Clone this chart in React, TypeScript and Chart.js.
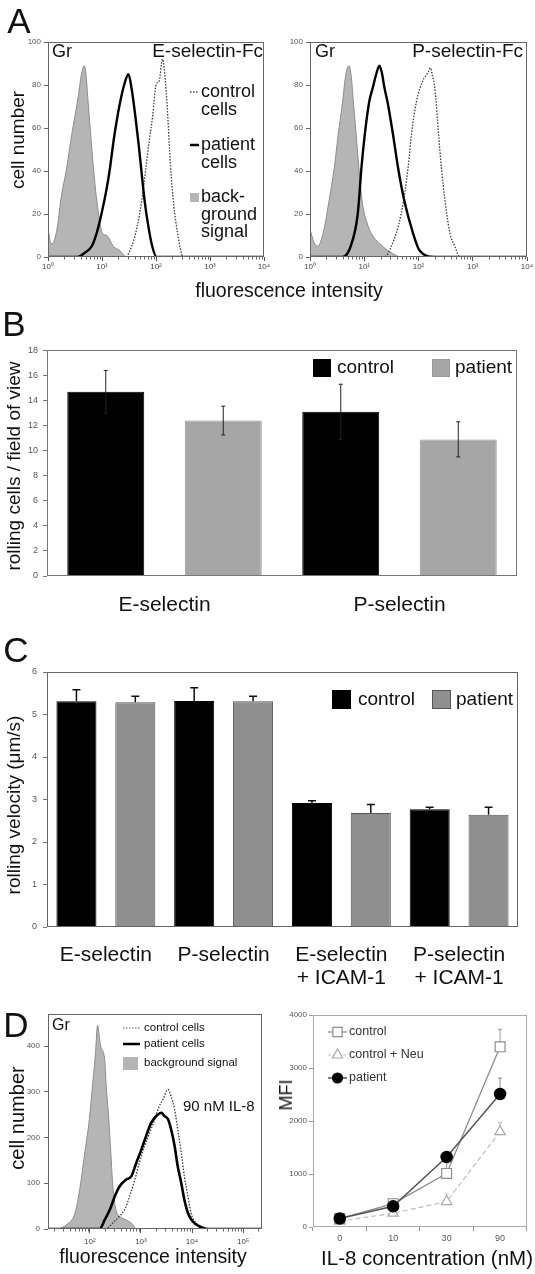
import React, { useEffect, useRef } from "react";
import { Chart, registerables } from "chart.js";
import { drawPoint } from "chart.js/helpers";

Chart.register(...registerables);

const FF = "'Liberation Sans', Arial, Helvetica, sans-serif";
Chart.defaults.font.family = FF;

// ---------------- Panel A (flow histograms, x = log10 fluorescence) ----------------
const SUP = ["\u2070", "\u00B9", "\u00B2", "\u00B3", "\u2074", "\u2075"];
const A_X_TICKS = [0, 1, 2, 3, 4];
const A_Y_TICKS = [0, 20, 40, 60, 80, 100];

const AE_BG_LOG = [0, 0.06, 0.12, 0.18, 0.24, 0.35, 0.44, 0.55, 0.62, 0.67, 0.7, 0.74, 0.79, 0.84, 0.9, 1.01, 1.09, 1.21, 1.33, 1.46, 4];
const AE_BG_CNT = [13, 6, 8, 15, 27, 42, 57, 73, 85, 89, 86, 73, 57, 42, 27, 11, 10, 5, 3, 0, 0];
const AE_PT_LOG = [0, 0.55, 0.68, 0.81, 0.9, 0.99, 1.08, 1.14, 1.22, 1.32, 1.41, 1.49, 1.55, 1.62, 1.68, 1.73, 1.79, 1.86, 1.93, 2.01, 4];
const AE_PT_CNT = [0, 0, 2, 5, 11, 20, 31, 40, 55, 70, 80, 85, 78, 65, 52, 40, 26, 14, 5, 0, 0];
const AE_CT_LOG = [0, 1.43, 1.55, 1.65, 1.74, 1.87, 1.94, 2.0, 2.06, 2.12, 2.15, 2.2, 2.27, 2.33, 2.4, 2.45, 2.5, 4];
const AE_CT_CNT = [0, 0, 5, 14, 27, 53, 66, 80, 82, 92, 88, 73, 42, 24, 11, 4, 0, 0];

const AP_BG_LOG = [0, 0.07, 0.14, 0.25, 0.35, 0.45, 0.52, 0.6, 0.66, 0.72, 0.76, 0.8, 0.85, 0.9, 0.96, 1.05, 1.13, 1.34, 1.5, 1.68, 4];
const AP_BG_CNT = [13, 7, 5, 12, 26, 42, 57, 72, 85, 89, 84, 72, 57, 42, 26, 16, 11, 5, 2, 0, 0];
const AP_PT_LOG = [0, 0.6, 0.75, 0.88, 0.95, 1.01, 1.09, 1.16, 1.22, 1.28, 1.33, 1.37, 1.43, 1.53, 1.62, 1.74, 1.9, 2.02, 2.3, 4];
const AP_PT_CNT = [0, 0, 5, 20, 42, 57, 72, 79, 85, 89, 85, 79, 72, 57, 42, 26, 11, 3, 0, 0];
const AP_CT_LOG = [0, 1.37, 1.5, 1.68, 1.81, 1.87, 1.96, 2.08, 2.18, 2.22, 2.26, 2.3, 2.37, 2.42, 2.49, 2.58, 2.67, 2.76, 4];
const AP_CT_CNT = [0, 0, 5, 20, 42, 57, 72, 82, 86, 88, 84, 79, 57, 42, 26, 11, 5, 0, 0];

// ---------------- Panel B ----------------
const B_CATS = ["E-selectin", "P-selectin"];
const B_CONTROL = [14.7, 13.1];
const B_CONTROL_ERR = [1.7, 2.2];
const B_PATIENT = [12.4, 10.9];
const B_PATIENT_ERR = [1.15, 1.4];
const B_Y_TICKS = [0, 2, 4, 6, 8, 10, 12, 14, 16, 18];

// ---------------- Panel C ----------------
const C_CATS = [["E-selectin"], ["P-selectin"], ["E-selectin", "+ ICAM-1"], ["P-selectin", "+ ICAM-1"]];
const C_CONTROL = [5.31, 5.32, 2.92, 2.77];
const C_CONTROL_ERR = [0.27, 0.31, 0.05, 0.05];
const C_PATIENT = [5.29, 5.31, 2.68, 2.64];
const C_PATIENT_ERR = [0.14, 0.12, 0.2, 0.18];
const C_Y_TICKS = [0, 1, 2, 3, 4, 5, 6];

// ---------------- Panel D left (IL-8 histogram) ----------------
const D_X_TICKS = [2, 3, 4, 5];
const D_Y_TICKS = [0, 100, 200, 300, 400];
const D_BG_LOG = [1.18, 1.35, 1.55, 1.71, 1.81, 1.9, 1.99, 2.05, 2.11, 2.15, 2.21, 2.29, 2.32, 2.37, 2.41, 2.45, 2.51, 2.58, 2.71, 2.84, 2.91, 5.37];
const D_BG_CNT = [0, 0, 10, 35, 93, 166, 240, 312, 385, 445, 400, 370, 312, 240, 166, 93, 42, 28, 20, 10, 0, 0];
const D_PT_LOG = [1.18, 2.19, 2.29, 2.39, 2.49, 2.58, 2.71, 2.81, 2.91, 3.01, 3.1, 3.2, 3.3, 3.4, 3.46, 3.53, 3.59, 3.66, 3.72, 3.79, 3.85, 3.92, 4.01, 4.14, 4.31, 5.37];
const D_PT_CNT = [0, 0, 20, 42, 72, 93, 108, 115, 145, 174, 203, 232, 247, 254, 247, 240, 218, 181, 137, 100, 64, 35, 17, 6, 0, 0];
const D_CT_LOG = [1.18, 2.3, 2.45, 2.58, 2.68, 2.78, 2.88, 2.97, 3.07, 3.17, 3.27, 3.36, 3.43, 3.53, 3.59, 3.66, 3.72, 3.79, 3.85, 3.92, 3.98, 4.08, 4.21, 4.3, 5.37];
const D_CT_CNT = [0, 0, 13, 28, 42, 72, 108, 145, 181, 210, 240, 269, 283, 305, 290, 261, 218, 166, 115, 72, 35, 13, 2, 0, 0];

// ---------------- Panel D right (MFI) ----------------
const MFI_CONC = ["0", "10", "30", "90"];
const MFI_CONTROL = [160, 440, 1010, 3400];
const MFI_CONTROL_ERR = [40, 60, 200, 330];
const MFI_NEU = [110, 260, 480, 1800];
const MFI_NEU_ERR = [20, 40, 140, 170];
const MFI_PATIENT = [160, 390, 1320, 2510];
const MFI_PATIENT_ERR = [30, 50, 80, 300];
const MFI_Y_TICKS = [0, 1000, 2000, 3000, 4000];

// ---------------- helpers ----------------
const pts = (xs: number[], ys: number[]) => xs.map((x, i) => ({ x, y: ys[i] }));

type Item = any;
type DecorOpts = {
  frame?: { color: string; width: number };
  minorX?: { len: number; color: string };
  errLayer?: "before" | "after";
  legend?: Item[];
  notes?: Item[];
};

function drawErrors(chart: any) {
  const ctx = chart.ctx;
  chart.data.datasets.forEach((ds: any, i: number) => {
    if (!ds.errors) return;
    const meta = chart.getDatasetMeta(i);
    const ys = chart.scales[meta.yAxisID];
    ctx.save();
    ctx.strokeStyle = ds.errColor || "#000";
    ctx.lineWidth = ds.errWidth || 1;
    meta.data.forEach((el: any, j: number) => {
      const v = ds.data[j];
      const e = ds.errors[j];
      const x = el.x;
      const top = ys.getPixelForValue(v + e);
      const bot = ys.getPixelForValue(ds.errDown ? v - e : v);
      const c = ds.errCap || 3;
      ctx.beginPath();
      ctx.moveTo(x, top);
      ctx.lineTo(x, bot);
      ctx.moveTo(x - c, top);
      ctx.lineTo(x + c, top);
      if (ds.errDown) {
        ctx.moveTo(x - c, bot);
        ctx.lineTo(x + c, bot);
      }
      ctx.stroke();
    });
    ctx.restore();
  });
}

function makeDecor(o: DecorOpts) {
  return {
    id: "decor",
    beforeDatasetsDraw(chart: any) {
      if (o.errLayer === "before") drawErrors(chart);
    },
    afterDatasetsDraw(chart: any) {
      if (o.errLayer !== "before") drawErrors(chart);
    },
    afterDraw(chart: any) {
      const ctx = chart.ctx;
      const a = chart.chartArea;
      ctx.save();
      if (o.frame) {
        ctx.strokeStyle = o.frame.color;
        ctx.lineWidth = o.frame.width;
        ctx.strokeRect(Math.round(a.left) + 0.5, Math.round(a.top) + 0.5, Math.round(a.right - a.left) - 1, Math.round(a.bottom - a.top) - 1);
      }
      if (o.minorX) {
        const s = chart.scales.x;
        ctx.strokeStyle = o.minorX.color;
        ctx.lineWidth = 1;
        ctx.beginPath();
        for (let n = Math.floor(s.min); n <= Math.ceil(s.max); n++) {
          for (let k = 2; k <= 9; k++) {
            const v = n + Math.log10(k);
            if (v <= s.min || v >= s.max) continue;
            const px = Math.round(s.getPixelForValue(v)) + 0.5;
            ctx.moveTo(px, a.bottom);
            ctx.lineTo(px, a.bottom + o.minorX.len);
          }
        }
        ctx.stroke();
      }
      (o.legend || []).forEach((it: Item) => {
        ctx.save();
        if (it.kind === "box") {
          ctx.fillStyle = it.fill;
          ctx.fillRect(it.x, it.y, it.w, it.h);
          if (it.stroke) {
            ctx.strokeStyle = it.stroke;
            ctx.lineWidth = 1;
            ctx.strokeRect(it.x + 0.5, it.y + 0.5, it.w - 1, it.h - 1);
          }
        } else {
          ctx.strokeStyle = it.color;
          ctx.lineWidth = it.width;
          ctx.setLineDash(it.dash || []);
          ctx.beginPath();
          ctx.moveTo(it.x1, it.y);
          ctx.lineTo(it.x2, it.y);
          ctx.stroke();
          ctx.setLineDash([]);
          if (it.kind === "marker") {
            ctx.fillStyle = it.fill;
            ctx.strokeStyle = it.stroke;
            ctx.lineWidth = 1.2;
            drawPoint(ctx, { pointStyle: it.style, radius: it.radius, rotation: 0, borderWidth: 1.2 } as any, (it.x1 + it.x2) / 2, it.y);
          }
        }
        ctx.restore();
      });
      (o.notes || []).forEach((n: Item) => {
        ctx.font = `${n.size}px ${FF}`;
        ctx.fillStyle = n.color || "#111";
        ctx.textAlign = n.align || "left";
        ctx.textBaseline = "middle";
        ctx.fillText(n.text, n.x, n.y);
      });
      ctx.restore();
    },
  };
}

function baseOpts(pad: any) {
  return {
    responsive: false,
    maintainAspectRatio: false,
    animation: false,
    devicePixelRatio: 1,
    events: [],
    layout: { padding: pad },
    plugins: { legend: { display: false }, tooltip: { enabled: false } },
  };
}

function yAxis(w: number, min: number, max: number, vals: number[], pad: number, size = 8, tickColor = "#666") {
  return {
    type: "linear",
    min,
    max,
    afterFit: (s: any) => {
      s.width = w;
    },
    afterBuildTicks: (s: any) => {
      s.ticks = vals.map((v) => ({ value: v }));
    },
    grid: { display: true, drawOnChartArea: false, drawTicks: true, tickLength: 4, color: tickColor },
    border: { display: false },
    ticks: { autoSkip: false, font: { size }, color: "#555", padding: pad, callback: (v: any) => String(v) },
  };
}

function logXAxis(h: number, min: number, max: number, majors: number[], pad: number) {
  return {
    type: "linear",
    min,
    max,
    afterFit: (s: any) => {
      s.height = h;
    },
    afterBuildTicks: (s: any) => {
      s.ticks = majors.map((v) => ({ value: v }));
    },
    grid: { display: true, drawOnChartArea: false, drawTicks: true, tickLength: 4, color: "#555" },
    border: { display: false },
    ticks: {
      autoSkip: false,
      maxRotation: 0,
      font: { size: 8 },
      color: "#444",
      padding: pad,
      callback: (v: any) => "10" + SUP[Math.round(Number(v))],
    },
  };
}

function histSets(pt: any[], ct: any[], bg: any[], ptW = 2.4) {
  return [
    { label: "patient cells", data: pt, borderColor: "#000", borderWidth: ptW, pointRadius: 0, cubicInterpolationMode: "monotone", fill: false },
    { label: "control cells", data: ct, borderColor: "#3a3a3a", borderWidth: 1.3, borderDash: [1.5, 1.5], pointRadius: 0, cubicInterpolationMode: "monotone", fill: false },
    { label: "background signal", data: bg, borderColor: "#8c8c8c", borderWidth: 1, backgroundColor: "#b5b5b5", fill: "origin", pointRadius: 0, cubicInterpolationMode: "monotone" },
  ];
}

// ---------------- chart configs ----------------
const cfgAE = () => ({
  type: "line",
  data: { datasets: histSets(pts(AE_PT_LOG, AE_PT_CNT), pts(AE_CT_LOG, AE_CT_CNT), pts(AE_BG_LOG, AE_BG_CNT)) },
  options: {
    ...baseOpts({ left: 0, top: 42, right: 11, bottom: 0 }),
    scales: { x: logXAxis(23, 0, 4, A_X_TICKS, 1), y: yAxis(48, 0, 100, A_Y_TICKS, 3, 8) },
  },
  plugins: [
    makeDecor({
      frame: { color: "#666", width: 1 },
      minorX: { len: 2.5, color: "#666" },
      legend: [
        { kind: "line", x1: 190, x2: 199, y: 92, color: "#444", width: 1.3, dash: [1.5, 1.5] },
        { kind: "line", x1: 190, x2: 199, y: 145, color: "#000", width: 2.5 },
        { kind: "box", x: 190, y: 193, w: 9, h: 9, fill: "#b5b5b5" },
      ],
      notes: [
        { text: "Gr", x: 52, y: 52, size: 18 },
        { text: "E-selectin-Fc", x: 263, y: 52, size: 19, align: "right" },
        { text: "control", x: 201, y: 92, size: 18 },
        { text: "cells", x: 201, y: 110, size: 18 },
        { text: "patient", x: 201, y: 145, size: 18 },
        { text: "cells", x: 201, y: 163, size: 18 },
        { text: "back-", x: 201, y: 197, size: 18 },
        { text: "ground", x: 201, y: 215, size: 18 },
        { text: "signal", x: 201, y: 232, size: 18 },
      ],
    }),
  ],
});

const cfgAP = () => ({
  type: "line",
  data: { datasets: histSets(pts(AP_PT_LOG, AP_PT_CNT), pts(AP_CT_LOG, AP_CT_CNT), pts(AP_BG_LOG, AP_BG_CNT)) },
  options: {
    ...baseOpts({ left: 0, top: 42, right: 8, bottom: 0 }),
    scales: { x: logXAxis(23, 0, 4, A_X_TICKS, 1), y: yAxis(40, 0, 100, A_Y_TICKS, 3, 8) },
  },
  plugins: [
    makeDecor({
      frame: { color: "#666", width: 1 },
      minorX: { len: 2.5, color: "#666" },
      notes: [
        { text: "Gr", x: 45, y: 52, size: 18 },
        { text: "P-selectin-Fc", x: 253, y: 52, size: 19, align: "right" },
      ],
    }),
  ],
});

const catAxis = (h: number, pad: number, size: number) => ({
  type: "category",
  afterFit: (s: any) => {
    s.height = h;
  },
  grid: { display: false },
  border: { display: false },
  ticks: { autoSkip: false, maxRotation: 0, font: { size, lineHeight: 1.1 }, color: "#111", padding: pad },
});

const cfgB = () => ({
  type: "bar",
  data: {
    labels: B_CATS,
    datasets: [
      { label: "control", data: B_CONTROL, errors: B_CONTROL_ERR, errDown: true, errCap: 2, errColor: "#222", backgroundColor: "#000", borderColor: "#000", borderWidth: 1, barPercentage: 0.655, categoryPercentage: 1.0 },
      { label: "patient", data: B_PATIENT, errors: B_PATIENT_ERR, errDown: true, errCap: 2, errColor: "#222", backgroundColor: "#a6a6a6", borderColor: "#999", borderWidth: 1, barPercentage: 0.655, categoryPercentage: 1.0 },
    ],
  },
  options: {
    ...baseOpts({ left: 0, top: 9, right: 18, bottom: 0 }),
    scales: { x: catAxis(49, 10, 21), y: yAxis(47, 0, 18, B_Y_TICKS, 5, 9, "#777") },
  },
  plugins: [
    makeDecor({
      frame: { color: "#777", width: 1 },
      legend: [
        { kind: "box", x: 313, y: 19, w: 18, h: 18, fill: "#000" },
        { kind: "box", x: 432, y: 19, w: 18, h: 18, fill: "#a6a6a6", stroke: "#999" },
      ],
      notes: [
        { text: "control", x: 337, y: 28, size: 19 },
        { text: "patient", x: 455, y: 28, size: 19 },
      ],
    }),
  ],
});

const cfgC = () => ({
  type: "bar",
  data: {
    labels: C_CATS,
    datasets: [
      { label: "control", data: C_CONTROL, errors: C_CONTROL_ERR, errCap: 4, errWidth: 1.5, errColor: "#111", backgroundColor: "#000", borderColor: "#000", borderWidth: 1, barPercentage: 0.68, categoryPercentage: 1.0 },
      { label: "patient", data: C_PATIENT, errors: C_PATIENT_ERR, errCap: 4, errWidth: 1.5, errColor: "#111", backgroundColor: "#8f8f8f", borderColor: "#555", borderWidth: 1, barPercentage: 0.68, categoryPercentage: 1.0 },
    ],
  },
  options: {
    ...baseOpts({ left: 0, top: 12, right: 17, bottom: 0 }),
    scales: { x: catAxis(68, 9, 21), y: yAxis(47, 0, 6, C_Y_TICKS, 6, 9, "#777") },
  },
  plugins: [
    makeDecor({
      frame: { color: "#666", width: 1 },
      legend: [
        { kind: "box", x: 332, y: 30, w: 19, h: 19, fill: "#000" },
        { kind: "box", x: 432, y: 30, w: 19, h: 19, fill: "#8f8f8f", stroke: "#555" },
      ],
      notes: [
        { text: "control", x: 358, y: 40, size: 19 },
        { text: "patient", x: 456, y: 40, size: 19 },
      ],
    }),
  ],
});

const cfgDL = () => ({
  type: "line",
  data: { datasets: histSets(pts(D_PT_LOG, D_PT_CNT), pts(D_CT_LOG, D_CT_CNT), pts(D_BG_LOG, D_BG_CNT), 2.6) },
  options: {
    ...baseOpts({ left: 0, top: 14, right: 8, bottom: 0 }),
    scales: { x: logXAxis(23, 1.18, 5.37, D_X_TICKS, 4), y: yAxis(48, 0, 470, D_Y_TICKS, 4, 8) },
  },
  plugins: [
    makeDecor({
      frame: { color: "#666", width: 1 },
      minorX: { len: 2.5, color: "#666" },
      legend: [
        { kind: "line", x1: 123, x2: 140, y: 28, color: "#555", width: 1, dash: [1.5, 1.5] },
        { kind: "line", x1: 123, x2: 140, y: 44, color: "#000", width: 2.5 },
        { kind: "box", x: 123, y: 57, w: 15, h: 13, fill: "#b5b5b5" },
      ],
      notes: [
        { text: "Gr", x: 52, y: 26, size: 16 },
        { text: "control cells", x: 144, y: 28, size: 11.5 },
        { text: "patient cells", x: 144, y: 44, size: 11.5 },
        { text: "background signal", x: 144, y: 63, size: 11.5 },
        { text: "90 nM IL-8", x: 183, y: 107, size: 15 },
      ],
    }),
  ],
});

const cfgDR = () => ({
  type: "line",
  data: {
    labels: MFI_CONC,
    datasets: [
      { label: "patient", data: MFI_PATIENT, errors: MFI_PATIENT_ERR, errCap: 2, errColor: "#888", borderColor: "#555", borderWidth: 1.5, pointStyle: "circle", pointRadius: 5.5, pointBackgroundColor: "#000", pointBorderColor: "#000", tension: 0 },
      { label: "control", data: MFI_CONTROL, errors: MFI_CONTROL_ERR, errCap: 2, errColor: "#999", borderColor: "#8c8c8c", borderWidth: 1.3, pointStyle: "rect", pointRadius: 7, pointBackgroundColor: "#fff", pointBorderColor: "#8c8c8c", pointBorderWidth: 1.2, tension: 0 },
      { label: "control + Neu", data: MFI_NEU, errors: MFI_NEU_ERR, errCap: 2, errColor: "#bbb", borderColor: "#bdbdbd", borderWidth: 1.2, borderDash: [5, 3], pointStyle: "triangle", pointRadius: 6, pointBackgroundColor: "#fff", pointBorderColor: "#aaa", pointBorderWidth: 1.2, tension: 0 },
    ],
  },
  options: {
    ...baseOpts({ left: 0, top: 15, right: 6, bottom: 0 }),
    scales: {
      x: {
        type: "category",
        offset: true,
        afterFit: (s: any) => {
          s.height = 25;
        },
        grid: { display: true, offset: true, drawOnChartArea: false, drawTicks: true, tickLength: 4, color: "#999" },
        border: { display: false },
        ticks: { font: { size: 9 }, color: "#555", padding: 2, maxRotation: 0 },
      },
      y: yAxis(43, 0, 4000, MFI_Y_TICKS, 2, 8, "#999"),
    },
  },
  plugins: [
    makeDecor({
      frame: { color: "#aaa", width: 1 },
      errLayer: "before",
      legend: [
        { kind: "marker", x1: 58, x2: 77, y: 32, color: "#8c8c8c", width: 1.2, style: "rect", radius: 6.5, fill: "#fff", stroke: "#8c8c8c" },
        { kind: "marker", x1: 58, x2: 77, y: 55, color: "#bdbdbd", width: 1.2, dash: [3, 2], style: "triangle", radius: 6, fill: "#fff", stroke: "#aaa" },
        { kind: "marker", x1: 58, x2: 77, y: 78, color: "#555", width: 1.5, style: "circle", radius: 5, fill: "#000", stroke: "#000" },
      ],
      notes: [
        { text: "control", x: 79, y: 32, size: 12.5, color: "#333" },
        { text: "control + Neu", x: 79, y: 55, size: 12.5, color: "#333" },
        { text: "patient", x: 79, y: 78, size: 12.5, color: "#333" },
      ],
    }),
  ],
});

// ---------------- components ----------------
function ChartCanvas({ left, top, width, height, make }: { left: number; top: number; width: number; height: number; make: () => any }) {
  const ref = useRef<HTMLCanvasElement>(null);
  useEffect(() => {
    const c = new Chart(ref.current as HTMLCanvasElement, make());
    return () => c.destroy();
  }, []);
  return (
    <canvas
      ref={ref}
      width={width}
      height={height}
      style={{ position: "absolute", left, top, width, height, display: "block" }}
    />
  );
}

function Label({ text, cx, cy, size, rotate = false }: { text: string; cx: number; cy: number; size: number; rotate?: boolean }) {
  return (
    <div
      style={{
        position: "absolute",
        left: cx,
        top: cy,
        transform: `translate(-50%, -50%)${rotate ? " rotate(-90deg)" : ""}`,
        fontFamily: FF,
        fontSize: size,
        lineHeight: 1,
        whiteSpace: "nowrap",
        color: "#111",
      }}
    >
      {text}
    </div>
  );
}

export default function App() {
  return (
    <div style={{ position: "absolute", left: 0, top: 0, width: 535, height: 1274, background: "#fff", overflow: "hidden" }}>
      <ChartCanvas left={0} top={0} width={275} height={280} make={cfgAE} />
      <ChartCanvas left={270} top={0} width={265} height={280} make={cfgAP} />
      <ChartCanvas left={0} top={340} width={535} height={285} make={cfgB} />
      <ChartCanvas left={0} top={660} width={535} height={335} make={cfgC} />
      <ChartCanvas left={0} top={1000} width={270} height={252} make={cfgDL} />
      <ChartCanvas left={270} top={1000} width={265} height={252} make={cfgDR} />

      <Label text="A" cx={19} cy={20} size={35} />
      <Label text="B" cx={14} cy={323} size={35} />
      <Label text="C" cx={16} cy={649} size={35} />
      <Label text="D" cx={16} cy={1024} size={35} />

      <Label text="cell number" cx={17} cy={140} size={19} rotate />
      <Label text="fluorescence intensity" cx={289} cy={291} size={19.5} />
      <Label text="rolling cells / field of view" cx={13} cy={466} size={19} rotate />
      <Label text="rolling velocity (μm/s)" cx={13} cy={805} size={19} rotate />
      <Label text="cell number" cx={17} cy={1118} size={20} rotate />
      <Label text="fluorescence intensity" cx={153} cy={1257} size={19.5} />
      <Label text="MFI" cx={286} cy={1095} size={18} rotate />
      <Label text="IL-8 concentration (nM)" cx={427} cy={1258} size={20.5} />
    </div>
  );
}
